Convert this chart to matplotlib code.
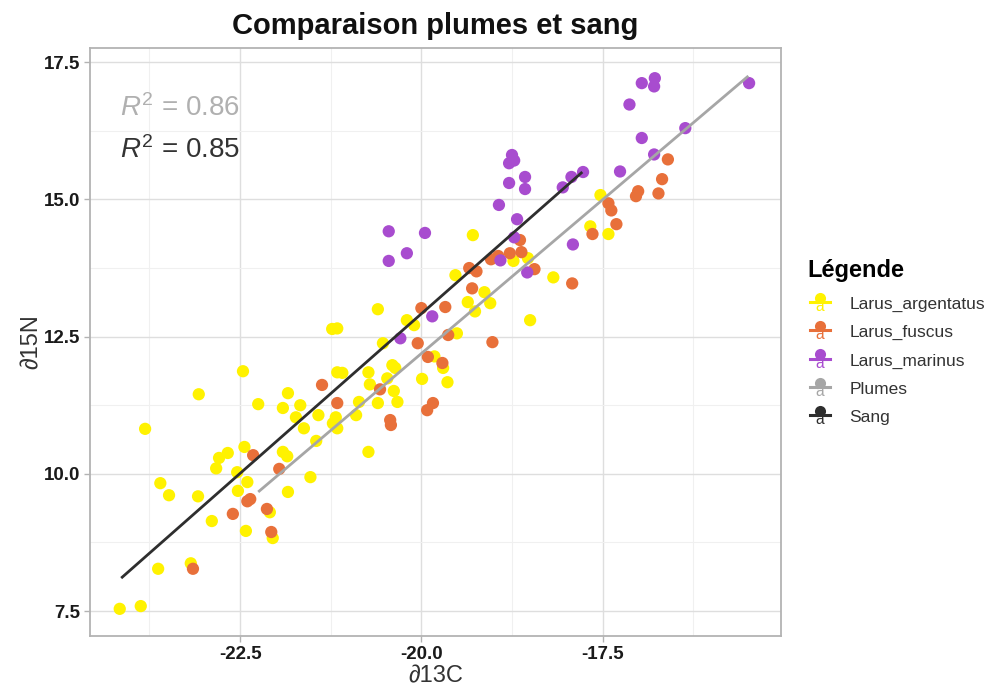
import matplotlib
matplotlib.use("Agg")
import matplotlib.pyplot as plt
from matplotlib.lines import Line2D
from matplotlib.text import Text
from matplotlib.legend_handler import HandlerBase

plt.rcParams["font.family"] = ["Liberation Sans", "DejaVu Sans"]
plt.rcParams["mathtext.fontset"] = "custom"
plt.rcParams["mathtext.rm"] = "Liberation Sans"
plt.rcParams["mathtext.it"] = "Liberation Sans:italic"

# --- data ---
arg_x = [-17.53, -17.67, -17.42, -19.29, -19.53, -18.73, -18.53, -18.18, -19.13, -19.05,
         -19.36, -19.26, -18.50, -19.51, -20.20, -20.10, -20.60, -21.23, -21.16, -20.53,
         -19.82, -19.70, -19.64, -19.99, -21.16, -21.09, -20.73, -20.71, -20.40, -20.36,
         -20.47, -20.38, -20.33, -20.86, -20.60, -21.84, -21.91, -21.67, -21.73, -21.42,
         -20.90, -21.18, -21.22, -21.16, -21.62, -21.45, -21.91, -21.85, -20.73, -22.46,
         -23.07, -23.81, -22.25, -22.44, -22.67, -22.79, -22.83, -22.54, -22.40, -22.53,
         -21.53, -23.60, -23.48, -23.08, -22.89, -21.84, -22.09, -22.42, -22.05, -23.63,
         -23.18, -24.16, -23.87]
arg_y = [15.08, 14.51, 14.37, 14.35, 13.62, 13.88, 13.93, 13.58, 13.31, 13.11,
         13.13, 12.96, 12.80, 12.56, 12.80, 12.71, 13.00, 12.64, 12.65, 12.38,
         12.14, 11.93, 11.67, 11.73, 11.85, 11.84, 11.85, 11.63, 11.98, 11.93,
         11.74, 11.51, 11.31, 11.31, 11.29, 11.47, 11.20, 11.25, 11.03, 11.07,
         11.07, 11.03, 10.92, 10.83, 10.83, 10.60, 10.40, 10.32, 10.40, 11.87,
         11.45, 10.82, 11.27, 10.49, 10.38, 10.29, 10.10, 10.03, 9.85, 9.69,
         9.94, 9.83, 9.61, 9.59, 9.14, 9.67, 9.30, 8.96, 8.83, 8.27,
         8.37, 7.54, 7.59]

fus_x = [-16.60, -16.68, -16.73, -17.01, -17.04, -17.42, -17.38, -17.31, -17.64, -18.64,
         -18.62, -18.78, -18.94, -19.04, -18.44, -19.24, -19.34, -19.30, -19.67, -20.00,
         -17.92, -20.05, -19.63, -19.02, -19.91, -19.71, -21.37, -21.16, -20.57, -19.84,
         -19.92, -20.43, -20.42, -22.32, -21.96, -22.40, -22.36, -22.60, -22.13, -22.07,
         -23.15]
fus_y = [15.73, 15.37, 15.11, 15.15, 15.06, 14.93, 14.80, 14.55, 14.37, 14.26,
         14.04, 14.02, 13.97, 13.91, 13.73, 13.69, 13.75, 13.38, 13.04, 13.02,
         13.47, 12.38, 12.53, 12.40, 12.13, 12.02, 11.62, 11.29, 11.54, 11.29,
         11.16, 10.98, 10.89, 10.34, 10.09, 9.50, 9.54, 9.27, 9.36, 8.94,
         8.27]

mar_x = [-20.45, -19.95, -20.20, -20.45, -19.85, -20.29, -15.48, -16.96, -16.78, -16.79,
         -17.13, -16.36, -16.96, -16.79, -17.26, -18.75, -18.72, -18.79, -18.57, -18.79,
         -18.57, -17.93, -18.05, -17.77, -18.93, -18.68, -18.72, -17.91, -18.91, -18.54]
mar_y = [14.42, 14.39, 14.02, 13.88, 12.87, 12.47, 17.12, 17.12, 17.21, 17.06,
         16.73, 16.30, 16.12, 15.82, 15.51, 15.81, 15.71, 15.66, 15.41, 15.30,
         15.19, 15.41, 15.22, 15.50, 14.90, 14.64, 14.31, 14.18, 13.89, 13.67]

# fitted lines (end points)
plumes_x = [-22.25, -15.49]
plumes_y = [9.67, 17.25]
sang_x = [-24.14, -17.78]
sang_y = [8.10, 15.50]

r2_plumes = 0.86
r2_sang = 0.85

species = ["Larus_argentatus", "Larus_fuscus", "Larus_marinus"]
sp_colors = ["#FFF200", "#E8703A", "#A84CCF"]
col_plumes = "#A6A6A6"
col_sang = "#2E2E2E"


class KeyHandler(HandlerBase):
    # ggplot-like key: point + line + "a"
    def create_artists(self, legend, orig_handle, xdescent, ydescent,
                       width, height, fontsize, trans):
        c = orig_handle.get_color()
        cx = width / 2 - xdescent
        ln = Line2D([-xdescent + 0.1 * width, -xdescent + 0.9 * width],
                    [height * 0.55 - ydescent] * 2, color=c, lw=2.2, transform=trans)
        dot = Line2D([cx], [height * 0.8 - ydescent], marker="o", ms=8, mew=0,
                     color=c, transform=trans)
        txt = Text(cx, height * 0.3 - ydescent, "a", color=c, ha="center",
                   va="center", fontsize=fontsize * 0.9, transform=trans)
        return [ln, dot, txt]


fig = plt.figure(figsize=(9.94, 6.88), dpi=100)
ax = fig.add_axes([90 / 994, 52 / 688, 691 / 994, 588 / 688])

for xs, ys, c in zip([arg_x, fus_x, mar_x], [arg_y, fus_y, mar_y], sp_colors):
    ax.scatter(xs, ys, s=78, color=c, edgecolors="none", zorder=2)

ax.plot(plumes_x, plumes_y, color=col_plumes, lw=2.0, zorder=3, solid_capstyle="butt")
ax.plot(sang_x, sang_y, color=col_sang, lw=2.0, zorder=3, solid_capstyle="butt")

ax.text(-24.16, 16.66, "$R^2$ = %.2f" % r2_plumes, color="#B0B0B0", fontsize=20,
        ha="left", va="center")
ax.text(-24.16, 15.90, "$R^2$ = %.2f" % r2_sang, color="#333333", fontsize=20,
        ha="left", va="center")

ax.set_xlim(-24.57, -15.04)
ax.set_ylim(7.045, 17.76)
ax.set_xticks([-22.5, -20.0, -17.5])
ax.set_xticklabels(["-22.5", "-20.0", "-17.5"])
ax.set_yticks([7.5, 10.0, 12.5, 15.0, 17.5])
ax.set_yticklabels(["7.5", "10.0", "12.5", "15.0", "17.5"])
ax.set_xticks([-23.75, -21.25, -18.75, -16.25], minor=True)
ax.set_yticks([8.75, 11.25, 13.75, 16.25], minor=True)
ax.grid(which="major", color="#DEDEDE", lw=1.0, zorder=0)
ax.grid(which="minor", color="#F0F0F0", lw=0.8, zorder=0)
ax.set_axisbelow(True)
ax.tick_params(which="major", length=4, width=1, color="#B3B3B3",
               labelsize=13.5, labelcolor="#1A1A1A", pad=3)
ax.tick_params(which="minor", length=0)
for lab in ax.get_xticklabels() + ax.get_yticklabels():
    lab.set_fontweight("bold")
for sp in ax.spines.values():
    sp.set_color("#B3B3B3")
    sp.set_linewidth(1.3)

ax.set_xlabel("∂13C", fontsize=17, color="#333333", labelpad=2)
ax.set_ylabel("∂15N", fontsize=17, color="#333333", labelpad=0.5)
ax.set_title("Comparaison plumes et sang", fontsize=21, fontweight="bold",
             color="#111111", pad=10)

handles = [Line2D([], [], color=c) for c in sp_colors] + \
          [Line2D([], [], color=col_plumes), Line2D([], [], color=col_sang)]
labels = species + ["Plumes", "Sang"]
leg = fig.legend(handles, labels, handler_map={Line2D: KeyHandler()},
                 loc="upper left", bbox_to_anchor=(792 / 994, 1 - 243 / 688),
                 frameon=False, fontsize=12.5, title="Légende",
                 title_fontproperties={"weight": "bold", "size": 17},
                 alignment="left", handlelength=1.4, handleheight=1.2,
                 handletextpad=1.0, labelspacing=0.6)
leg._legend_box.sep = 9
for t in leg.get_texts():
    t.set_color("#333333")

fig.savefig("out.png", dpi=100)
